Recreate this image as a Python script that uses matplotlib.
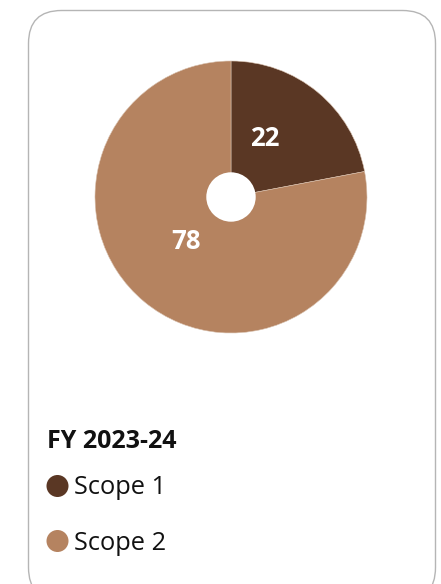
import numpy as np
import matplotlib.pyplot as plt
from matplotlib.patches import FancyBboxPatch, Circle

plt.rcParams['font.family'] = ['Open Sans', 'DejaVu Sans']

title = "FY 2023-24"
categories = ["Scope 1", "Scope 2"]
values = [22, 78]
colors = ["#5a3724", "#b58360"]

W, H = 441, 584
fig = plt.figure(figsize=(W / 100, H / 100), dpi=100)

# background card, in pixel coordinates
bg = fig.add_axes([0, 0, 1, 1])
bg.set_xlim(0, W)
bg.set_ylim(H, 0)
bg.axis('off')
card = FancyBboxPatch((28.5, 10.5), 407, 590, boxstyle="round,pad=0,rounding_size=33",
                      facecolor='white', edgecolor='#b5b5b5', linewidth=1.0)
bg.add_patch(card)

# pie
cx, cy, r = 231, 197, 136
ax = fig.add_axes([(cx - r) / W, (H - cy - r) / H, 2 * r / W, 2 * r / H])
wedges, texts, autotexts = ax.pie(values, colors=colors, startangle=90, counterclock=False,
                                  autopct=lambda p: f"{p:.0f}", pctdistance=0.5,
                                  wedgeprops=dict(edgecolor='#d9c2b0', linewidth=0.4))
ax.set_xlim(-1, 1)
ax.set_ylim(-1, 1)
ax.set_aspect('equal')
ax.add_patch(Circle((0, 0), 24.7 / r, facecolor='white', edgecolor='none', zorder=5))

# label placement tweaks (angle shift in degrees, radius fraction)
shifts = [(9.6, 0.5), (-6, 0.465)]
for t, w, (da, rr) in zip(autotexts, wedges, shifts):
    a = np.deg2rad((w.theta1 + w.theta2) / 2 + da)
    t.set_position((rr * np.cos(a), rr * np.sin(a)))
    t.set_color('white')
    t.set_fontsize(18.5)
    t.set_fontweight('bold')

# legend block
bg.text(47, 441, title, fontsize=18, fontweight='bold', color='#111111', va='center', ha='left')
for i, (lab, col) in enumerate(zip(categories, colors)):
    y = 486 + i * 55
    bg.add_patch(Circle((57.5, y), 11, facecolor=col, edgecolor='none'))
    bg.text(74, y + 2, lab, fontsize=18.3, color='#111111', va='center', ha='left')

fig.savefig("out.png", dpi=100)
